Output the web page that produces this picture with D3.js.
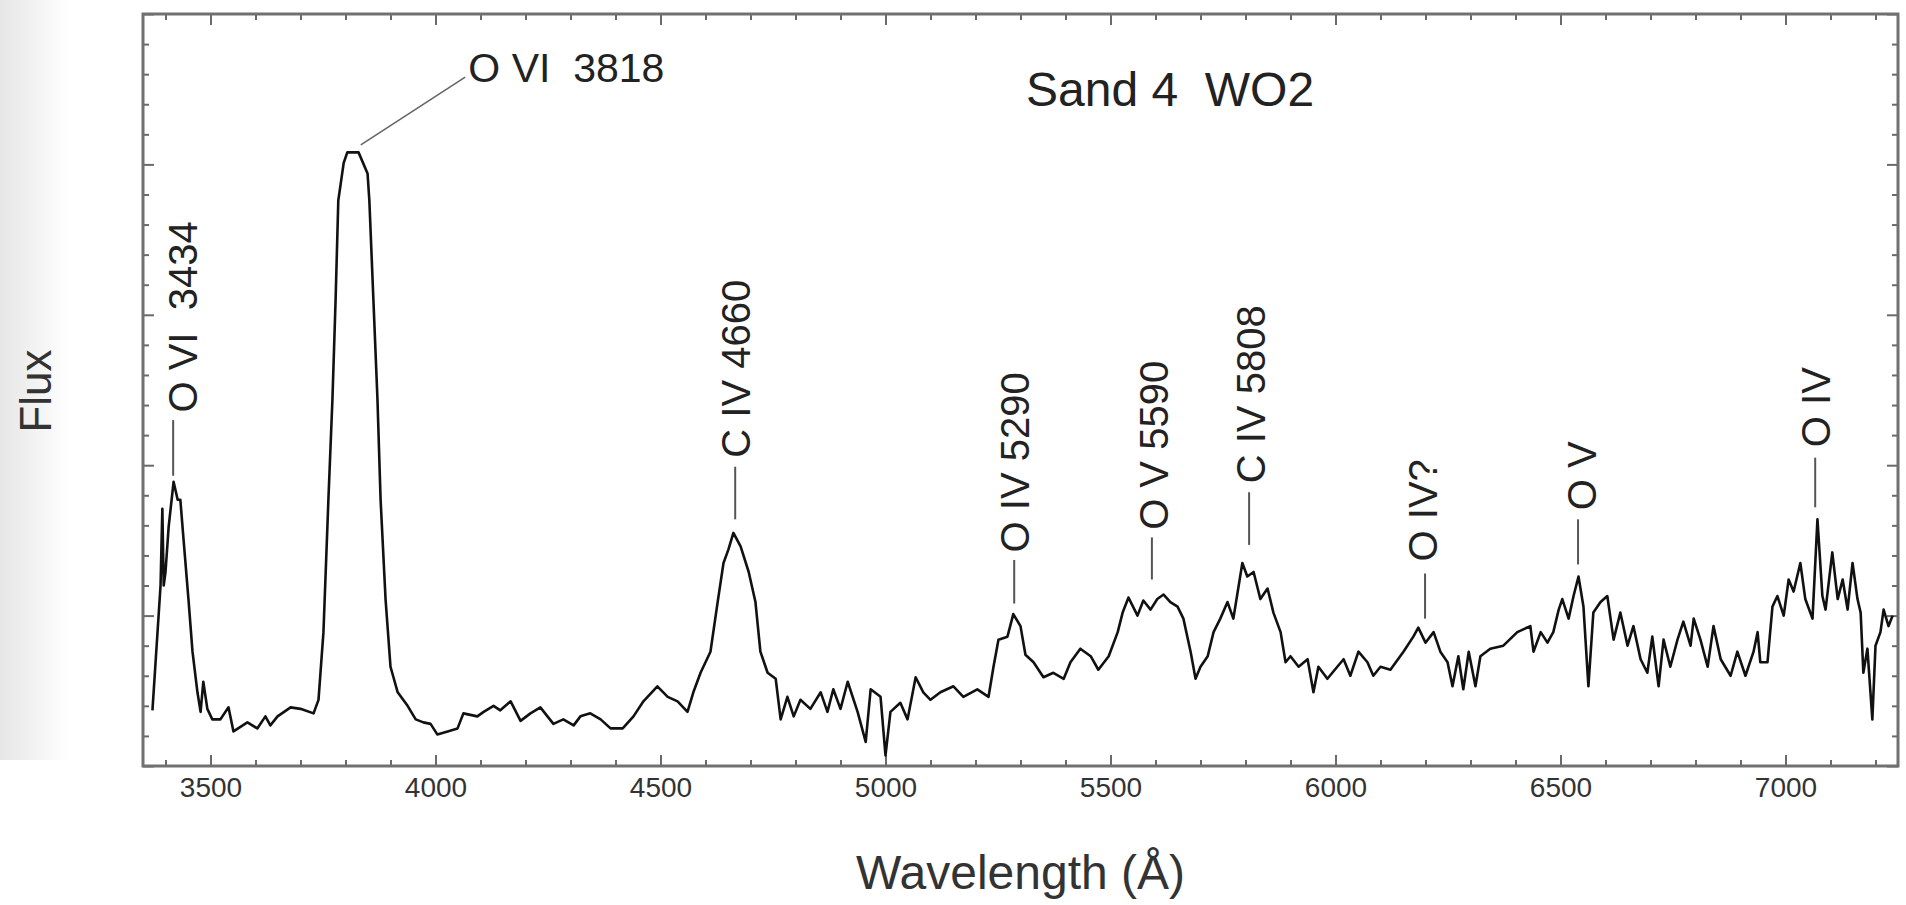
<!DOCTYPE html>
<html><head><meta charset="utf-8">
<script src="https://cdn.jsdelivr.net/npm/d3@7"></script>
<style>
html,body{margin:0;padding:0;background:#fff;}
svg{display:block;font-family:"Liberation Sans",Arial,Helvetica,sans-serif;}
text{white-space:pre;}
</style></head><body>
<svg id="chart" width="1906" height="905"></svg>
<script>
// ---- data ----
const wavelength = [3371,3389,3393,3396,3400,3407,3418,3427,3433,3440,3451,3460,3471,3478,3484,3493,3504,3522,3540,3551,3582,3604,3622,3633,3649,3678,3700,3729,3740,3751,3762,3771,3778,3784,3796,3804,3829,3849,3853,3862,3871,3878,3889,3900,3916,3938,3956,3973,3989,4004,4027,4049,4062,4093,4107,4129,4144,4167,4189,4211,4233,4262,4284,4307,4322,4344,4367,4389,4416,4440,4462,4493,4516,4538,4560,4573,4589,4611,4627,4640,4651,4662,4678,4696,4711,4722,4738,4756,4767,4782,4796,4811,4833,4856,4871,4884,4900,4916,4938,4956,4967,4989,5000,5011,5033,5049,5067,5084,5100,5122,5151,5173,5204,5229,5240,5251,5271,5284,5300,5311,5329,5351,5373,5396,5411,5433,5456,5473,5496,5516,5527,5540,5560,5573,5589,5604,5618,5633,5649,5662,5678,5689,5700,5716,5729,5744,5760,5773,5793,5804,5818,5833,5849,5862,5878,5889,5900,5918,5938,5951,5962,5982,6004,6018,6033,6051,6071,6084,6100,6122,6151,6173,6184,6200,6218,6233,6249,6260,6273,6284,6296,6311,6322,6344,6373,6404,6433,6440,6456,6471,6484,6496,6504,6518,6529,6540,6551,6562,6573,6589,6604,6618,6633,6649,6662,6678,6693,6704,6718,6729,6744,6760,6773,6789,6796,6811,6827,6840,6856,6878,6893,6911,6929,6938,6944,6960,6971,6982,6996,7007,7018,7033,7044,7060,7071,7082,7089,7104,7116,7127,7138,7149,7160,7167,7173,7182,7193,7200,7211,7218,7229,7238];
const flux = [0.37,1.20,1.71,1.20,1.29,1.59,1.89,1.77,1.77,1.51,1.11,0.76,0.49,0.36,0.56,0.38,0.31,0.31,0.39,0.23,0.29,0.25,0.33,0.27,0.33,0.39,0.38,0.35,0.44,0.89,1.77,2.44,3.10,3.76,4.01,4.08,4.08,3.94,3.76,3.10,2.44,1.77,1.11,0.66,0.49,0.40,0.31,0.29,0.28,0.21,0.23,0.25,0.35,0.33,0.36,0.40,0.37,0.43,0.30,0.35,0.39,0.28,0.31,0.27,0.33,0.35,0.31,0.25,0.25,0.33,0.43,0.53,0.46,0.43,0.36,0.49,0.62,0.76,1.09,1.35,1.44,1.55,1.46,1.29,1.09,0.76,0.62,0.58,0.31,0.46,0.33,0.44,0.38,0.49,0.36,0.51,0.38,0.56,0.36,0.16,0.51,0.46,0.07,0.36,0.42,0.31,0.59,0.49,0.44,0.49,0.53,0.46,0.51,0.46,0.66,0.84,0.86,1.01,0.93,0.74,0.69,0.59,0.62,0.58,0.69,0.78,0.73,0.64,0.73,0.89,1.02,1.12,1.00,1.10,1.04,1.11,1.14,1.09,1.06,0.98,0.76,0.58,0.66,0.73,0.89,0.98,1.09,0.98,1.35,1.26,1.29,1.11,1.18,1.02,0.89,0.69,0.73,0.66,0.71,0.49,0.66,0.58,0.66,0.71,0.60,0.76,0.69,0.60,0.66,0.64,0.76,0.86,0.92,0.82,0.89,0.76,0.69,0.53,0.73,0.51,0.76,0.53,0.73,0.78,0.80,0.89,0.93,0.76,0.89,0.82,0.89,1.04,1.11,0.98,1.13,1.26,1.06,0.53,1.02,1.09,1.13,0.84,1.02,0.80,0.93,0.71,0.62,0.86,0.53,0.84,0.66,0.84,0.96,0.80,0.98,0.84,0.66,0.93,0.71,0.60,0.76,0.60,0.76,0.89,0.69,0.69,1.06,1.13,1.00,1.24,1.16,1.35,1.11,0.98,1.64,1.13,1.04,1.42,1.11,1.24,1.04,1.35,1.11,1.02,0.62,0.78,0.31,0.80,0.89,1.04,0.93,1.00];

const xMajorTicks = [3500,4000,4500,5000,5500,6000,6500,7000];
const xTickLabels = ["3500","4000","4500","5000","5500","6000","6500","7000"];
const yMajorTicks = [0,1,2,3,4,5];

// line identifications (data units)
const lineLabels = ["O VI  3434","C IV 4660","O IV 5290","O V 5590","C IV 5808","O IV?","O V","O IV"];
const lineWaves  = [3417,4666,5286,5592,5808,6199,6539,7066];
const labelWaves = [3439,4666,5286,5597,5812,6194,6546,7066];
const lineLow    = [1.93,1.64,1.08,1.24,1.47,0.98,1.34,1.72];
const lineHigh   = [2.30,1.99,1.37,1.52,1.82,1.28,1.64,2.05];
const labelStart = [2.35,2.05,1.42,1.57,1.88,1.36,1.70,2.12];

const peakLabel = "O VI  3818";
const peakLeaderWave = [3834,4066];
const peakLeaderFlux = [4.13,4.58];
const peakLabelWave = 4073, peakLabelFlux = 4.55;

const title = "Sand 4  WO2";
const xTitle = "Wavelength (Å)";
const yTitle = "Flux";

// ---- drawing ----
const svg = d3.select("#chart");
const L = 143, R = 1898, T = 14, B = 766;
const x = d3.scaleLinear().domain([3350,7250]).range([L,R]);
const y = d3.scaleLinear().domain([0,5]).range([B,T]);

const defs = svg.append("defs");
const gr = defs.append("linearGradient").attr("id","edge").attr("x1","0").attr("x2","1").attr("y1","0").attr("y2","0");
gr.append("stop").attr("offset","0").attr("stop-color","#e6e6e6");
gr.append("stop").attr("offset","1").attr("stop-color","#ffffff");
svg.append("rect").attr("x",0).attr("y",0).attr("width",70).attr("height",760).attr("fill","url(#edge)");

const minorX = d3.range(3400,7300,100).filter(v => v % 500 !== 0);
const minorY = d3.range(1,25).map(v => v/5).filter(v => Math.abs(v - Math.round(v)) > 1e-6);

function styleAxis(g){
  g.select(".domain").remove();
  g.selectAll(".tick line").attr("stroke","#6a6a6a").attr("stroke-width",2);
}
svg.append("g").attr("transform",`translate(0,${B})`)
  .call(d3.axisBottom(x).tickValues(xMajorTicks).tickFormat((d,i)=>xTickLabels[i]).tickSizeInner(-11).tickSizeOuter(0).tickPadding(11))
  .call(styleAxis)
  .call(g=>g.selectAll("text").attr("font-size",28).attr("fill","#333").attr("font-family",'"Liberation Sans",Arial,sans-serif'));
svg.append("g").attr("transform",`translate(0,${B})`)
  .call(d3.axisBottom(x).tickValues(minorX).tickFormat("").tickSizeInner(-6).tickSizeOuter(0)).call(styleAxis);
svg.append("g").attr("transform",`translate(0,${T})`)
  .call(d3.axisTop(x).tickValues(xMajorTicks).tickFormat("").tickSizeInner(-11).tickSizeOuter(0)).call(styleAxis);
svg.append("g").attr("transform",`translate(0,${T})`)
  .call(d3.axisTop(x).tickValues(minorX).tickFormat("").tickSizeInner(-6).tickSizeOuter(0)).call(styleAxis);
svg.append("g").attr("transform",`translate(${L},0)`)
  .call(d3.axisLeft(y).tickValues(yMajorTicks).tickFormat("").tickSizeInner(-11).tickSizeOuter(0)).call(styleAxis);
svg.append("g").attr("transform",`translate(${L},0)`)
  .call(d3.axisLeft(y).tickValues(minorY).tickFormat("").tickSizeInner(-6).tickSizeOuter(0)).call(styleAxis);
svg.append("g").attr("transform",`translate(${R},0)`)
  .call(d3.axisRight(y).tickValues(yMajorTicks).tickFormat("").tickSizeInner(-11).tickSizeOuter(0)).call(styleAxis);
svg.append("g").attr("transform",`translate(${R},0)`)
  .call(d3.axisRight(y).tickValues(minorY).tickFormat("").tickSizeInner(-6).tickSizeOuter(0)).call(styleAxis);

svg.append("rect").attr("x",L).attr("y",T).attr("width",R-L).attr("height",B-T)
  .attr("fill","none").attr("stroke","#707070").attr("stroke-width",3);

// spectrum
const pts = wavelength.map((w,i)=>[w,flux[i]]);
svg.append("path").datum(pts)
  .attr("d", d3.line().x(d=>x(d[0])).y(d=>y(d[1])))
  .attr("fill","none").attr("stroke","#111").attr("stroke-width",2.6).attr("stroke-linejoin","round");

// line identifications
const fs = 40;
lineLabels.forEach((lab,i)=>{
  svg.append("line").attr("x1",x(lineWaves[i])).attr("x2",x(lineWaves[i]))
    .attr("y1",y(lineLow[i])).attr("y2",y(lineHigh[i]))
    .attr("stroke","#555").attr("stroke-width",2);
  svg.append("text")
    .attr("transform",`translate(${x(labelWaves[i]) + fs*0.716/2},${y(labelStart[i])}) rotate(-90)`)
    .attr("font-size",fs).attr("fill","#222").text(lab);
});

svg.append("line").attr("x1",x(peakLeaderWave[0])).attr("y1",y(peakLeaderFlux[0]))
  .attr("x2",x(peakLeaderWave[1])).attr("y2",y(peakLeaderFlux[1]))
  .attr("stroke","#666").attr("stroke-width",1.6);
svg.append("text").attr("x",x(peakLabelWave)).attr("y",y(peakLabelFlux))
  .attr("font-size",41).attr("fill","#222").text(peakLabel);

svg.append("text").attr("x",1026).attr("y",106).attr("font-size",48).attr("fill","#222").text(title);
svg.append("text").attr("x",(L+R)/2).attr("y",889).attr("text-anchor","middle")
  .attr("font-size",48).attr("fill","#333").text(xTitle);
svg.append("text").attr("transform","translate(51,391) rotate(-90)").attr("text-anchor","middle")
  .attr("font-size",44).attr("fill","#333").text(yTitle);
</script>
</body></html>
